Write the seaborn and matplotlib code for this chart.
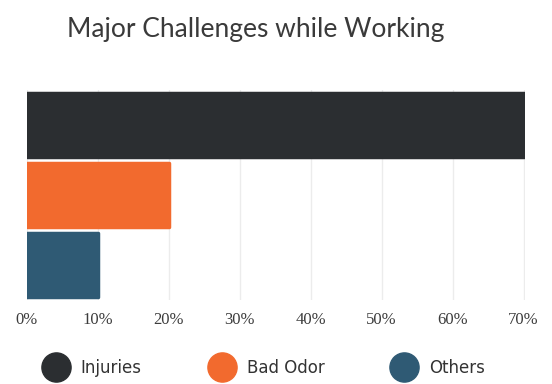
import pandas as pd
import seaborn as sns
import matplotlib.pyplot as plt
from matplotlib.lines import Line2D
from matplotlib.ticker import FuncFormatter

# --- dati ---
categories = ['Injuries', 'Bad Odor', 'Others']
values = [70, 20, 10]
colors = ['#2b2e31', '#f26a2e', '#2f5a74']

df = pd.DataFrame({'challenge': categories, 'pct': values})

sns.set_style("white")
plt.rcParams['font.family'] = ['Lato', 'DejaVu Sans']

fig = plt.figure(figsize=(5.52, 3.84), dpi=100)
ax = fig.add_axes([27 / 552, 1 - 300 / 384, 498 / 552, 210 / 384])

sns.barplot(data=df, y='challenge', x='pct', hue='challenge', palette=colors,
            saturation=1, orient='h', width=0.92, legend=False, ax=ax, zorder=3)

# angoli leggermente arrotondati
for p, c in zip(ax.patches, colors):
    p.set_edgecolor(c)
    p.set_linewidth(2.5)
    p.set_joinstyle('round')

ax.set_xlim(0, 70.2)
ax.set_ylim(2.5, -0.5)
ax.set_xticks(range(0, 71, 10))
ax.xaxis.set_major_formatter(FuncFormatter(lambda x, pos: f'{x:.0f}%'))
ax.grid(axis='x', color='#ececec', linewidth=1, zorder=0)
ax.set_yticks([])
ax.set_xlabel('')
ax.set_ylabel('')
for s in ax.spines.values():
    s.set_visible(False)
ax.tick_params(axis='x', length=0, pad=9, labelsize=12, labelcolor='#3c3c3c')
for lab in ax.get_xticklabels():
    lab.set_fontfamily('Liberation Serif')

fig.text(67 / 552, 1 - 29 / 384, 'Major Challenges while Working', fontsize=19,
         color='#3a3a3a', va='center', ha='left')

handles = [Line2D([], [], marker='o', linestyle='', markersize=21,
                  markerfacecolor=c, markeredgecolor=c) for c in colors]
leg = fig.legend(handles, categories, loc='center', bbox_to_anchor=(0.478, 1 - 368 / 384),
                 ncol=3, frameon=False, handletextpad=0.7, handlelength=1.6,
                 columnspacing=4.0, prop={'family': 'DejaVu Sans', 'size': 12})
for t in leg.get_texts():
    t.set_color('#333333')
    t.set_fontfamily('DejaVu Sans')

fig.savefig('out.png', dpi=100)
